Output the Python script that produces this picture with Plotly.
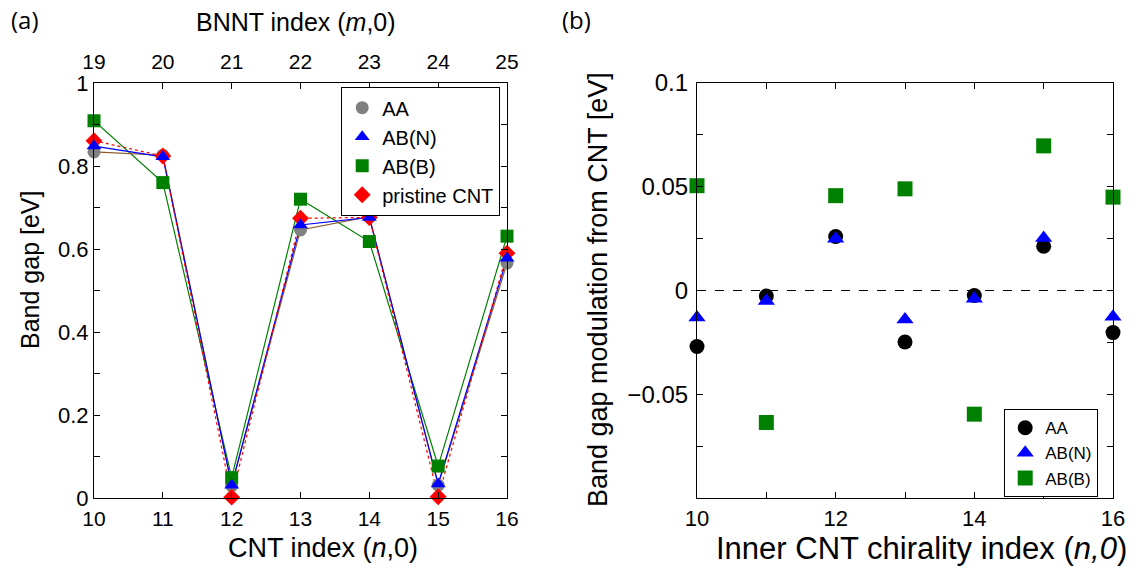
import plotly.graph_objects as go

# ---------------- data ----------------
cnt_index = [10, 11, 12, 13, 14, 15, 16]
bnnt_index = [19, 20, 21, 22, 23, 24, 25]

gap_AA = [0.834, 0.826, 0.030, 0.646, 0.678, 0.031, 0.566]
gap_ABN = [0.848, 0.822, 0.031, 0.658, 0.676, 0.034, 0.578]
gap_ABB = [0.909, 0.760, 0.049, 0.720, 0.618, 0.077, 0.631]
gap_CNT = [0.861, 0.824, 0.002, 0.674, 0.676, 0.003, 0.590]

mod_AA = [-0.027, -0.0027, 0.026, -0.0248, -0.0024, 0.0213, -0.0203]
mod_ABN = [-0.013, -0.005, 0.025, -0.014, -0.004, 0.0253, -0.0126]
mod_ABB = [0.0505, -0.0636, 0.0457, 0.049, -0.0596, 0.0697, 0.045]

FONT = "Liberation Sans, Arial, sans-serif"
W, H = 1137, 576

fig = go.Figure()

# ---- panel (a): lines ----
line_specs = [
    (gap_ABB, "#008000", "solid"),
    (gap_AA, "#8B5A2B", "solid"),
    (gap_ABN, "#0000FF", "solid"),
    (gap_CNT, "#FF0000", "dot"),
]
for ys, col, dash in line_specs:
    fig.add_trace(go.Scatter(x=cnt_index, y=ys, mode="lines",
                             line=dict(color=col, width=1.2, dash=dash),
                             showlegend=False, hoverinfo="skip",
                             xaxis="x", yaxis="y"))

# ---- panel (a): markers ----
marker_specs = [
    ("AA", gap_AA, "#808080", "circle", 1),
    ("AB(B)", gap_ABB, "#008000", "square", 3),
    ("pristine CNT", gap_CNT, "#FF0000", "diamond", 4),
    ("AB(N)", gap_ABN, "#0000FF", "triangle-up", 2),
]
for name, ys, col, sym, rank in marker_specs:
    fig.add_trace(go.Scatter(x=cnt_index, y=ys, mode="markers", name=name,
                             marker=dict(color=col, symbol=sym, size=13,
                                         line=dict(width=0)),
                             legend="legend", legendrank=rank,
                             xaxis="x", yaxis="y", cliponaxis=False))

# invisible trace for top axis
fig.add_trace(go.Scatter(x=bnnt_index, y=gap_AA, mode="markers",
                         marker=dict(opacity=0), showlegend=False,
                         hoverinfo="skip", xaxis="x3", yaxis="y"))

# ---- panel (b) ----
b_specs = [
    ("AA", mod_AA, "#000000", "circle", 1),
    ("AB(N)", mod_ABN, "#0000FF", "triangle-up", 2),
    ("AB(B)", mod_ABB, "#008000", "square", 3),
]
for name, ys, col, sym, rank in b_specs:
    fig.add_trace(go.Scatter(x=cnt_index, y=ys, mode="markers", name=name,
                             marker=dict(color=col, symbol=sym, size=15,
                                         line=dict(width=0)),
                             legend="legend2", legendrank=rank,
                             xaxis="x2", yaxis="y2", cliponaxis=False))

# domains
xa = [94 / W, 507 / W]
xb = [697 / W, 1113 / W]
yd = [1 - 498 / H, 1 - 83 / H]

base_axis = dict(showline=True, linecolor="black", linewidth=1.2,
                 ticks="inside", ticklen=6, tickcolor="black",
                 showgrid=False, zeroline=False, automargin=False)
font_ax = dict(family=FONT, size=21, color="black")
font_ay = dict(family=FONT, size=22, color="black")
font_bx = dict(family=FONT, size=22, color="black")
font_by = dict(family=FONT, size=24, color="black")

fig.update_layout(
    width=W, height=H,
    margin=dict(l=0, r=0, t=0, b=0),
    paper_bgcolor="white", plot_bgcolor="white",
    font=dict(family=FONT, color="black"),
    xaxis=dict(domain=xa, range=[10, 16], dtick=1, tick0=10,
               mirror=False, anchor="y", tickfont=font_ax,
               ticklabelstandoff=2, **base_axis),
    xaxis3=dict(range=[19, 25], dtick=1, tick0=19, side="top",
                overlaying="x", anchor="y", tickfont=font_ax,
                ticklabelstandoff=5, **base_axis),
    yaxis=dict(domain=yd, range=[0, 1], tickvals=[0, 0.2, 0.4, 0.6, 0.8, 1],
               ticktext=["0", "0.2", "0.4", "0.6", "0.8", "1"],
               mirror="ticks", anchor="x", tickfont=font_ay,
               minor=dict(ticks="inside", dtick=0.1, ticklen=6,
                          tickcolor="black"),
               **base_axis),
    xaxis2=dict(domain=xb, range=[10, 16], tickvals=[10, 12, 14, 16],
                mirror="ticks", anchor="y2", tickfont=font_bx,
                minor=dict(ticks="inside", dtick=1, ticklen=6,
                           tickcolor="black"),
                **base_axis),
    yaxis2=dict(domain=yd, range=[-0.1, 0.1],
                tickvals=[-0.05, 0, 0.05, 0.1],
                ticktext=["\u22120.05", "0", "0.05", "0.1"],
                mirror="ticks", anchor="x2", tickfont=font_by,
                ticklabelstandoff=3,
                minor=dict(ticks="inside", dtick=0.025, ticklen=6,
                           tickcolor="black"),
                **base_axis),
    legend=dict(x=500 / W, y=1 - 87 / H, xanchor="right", yanchor="top",
                bordercolor="black", borderwidth=1.2, bgcolor="white",
                font=dict(family=FONT, size=20), tracegroupgap=0,
                itemwidth=30),
    legend2=dict(x=1098 / W, y=1 - 409 / H, xanchor="right", yanchor="top",
                 bordercolor="black", borderwidth=1.2, bgcolor="white",
                 font=dict(family=FONT, size=17), tracegroupgap=0,
                 itemwidth=30),
    showlegend=True,
)

# dashed zero line in (b)
fig.add_shape(type="line", xref="x2", yref="y2", x0=10, x1=16, y0=0, y1=0,
              line=dict(color="black", width=1, dash="dash"), layer="below")

ann = [
    dict(text="(a)", x=9, y=20, size=24, angle=0, fam="Open Sans", anchor="left"),
    dict(text="(b)", x=560, y=20, size=24, angle=0, fam="Open Sans", anchor="left"),
    dict(text="BNNT index (<i>m</i>,0)", x=296, y=22, size=25, angle=0),
    dict(text="CNT index (<i>n</i>,0)", x=323, y=548, size=27, angle=0),
    dict(text="Band gap [eV]", x=30, y=270, size=25, angle=-90),
    dict(text="Band gap modulation from CNT [eV]", x=598, y=290, size=27,
         angle=-90),
    dict(text="Inner CNT chirality index (<i>n,0</i>)", x=921, y=548,
         size=31, angle=0),
]
for a in ann:
    fig.add_annotation(text=a["text"], x=a["x"] / W, y=1 - a["y"] / H,
                       xref="paper", yref="paper", showarrow=False,
                       xanchor=a.get("anchor", "center"),
                       yanchor="middle", textangle=a["angle"],
                       font=dict(family=a.get("fam", FONT), size=a["size"],
                                 color="black"))

fig.write_html("out.html")
